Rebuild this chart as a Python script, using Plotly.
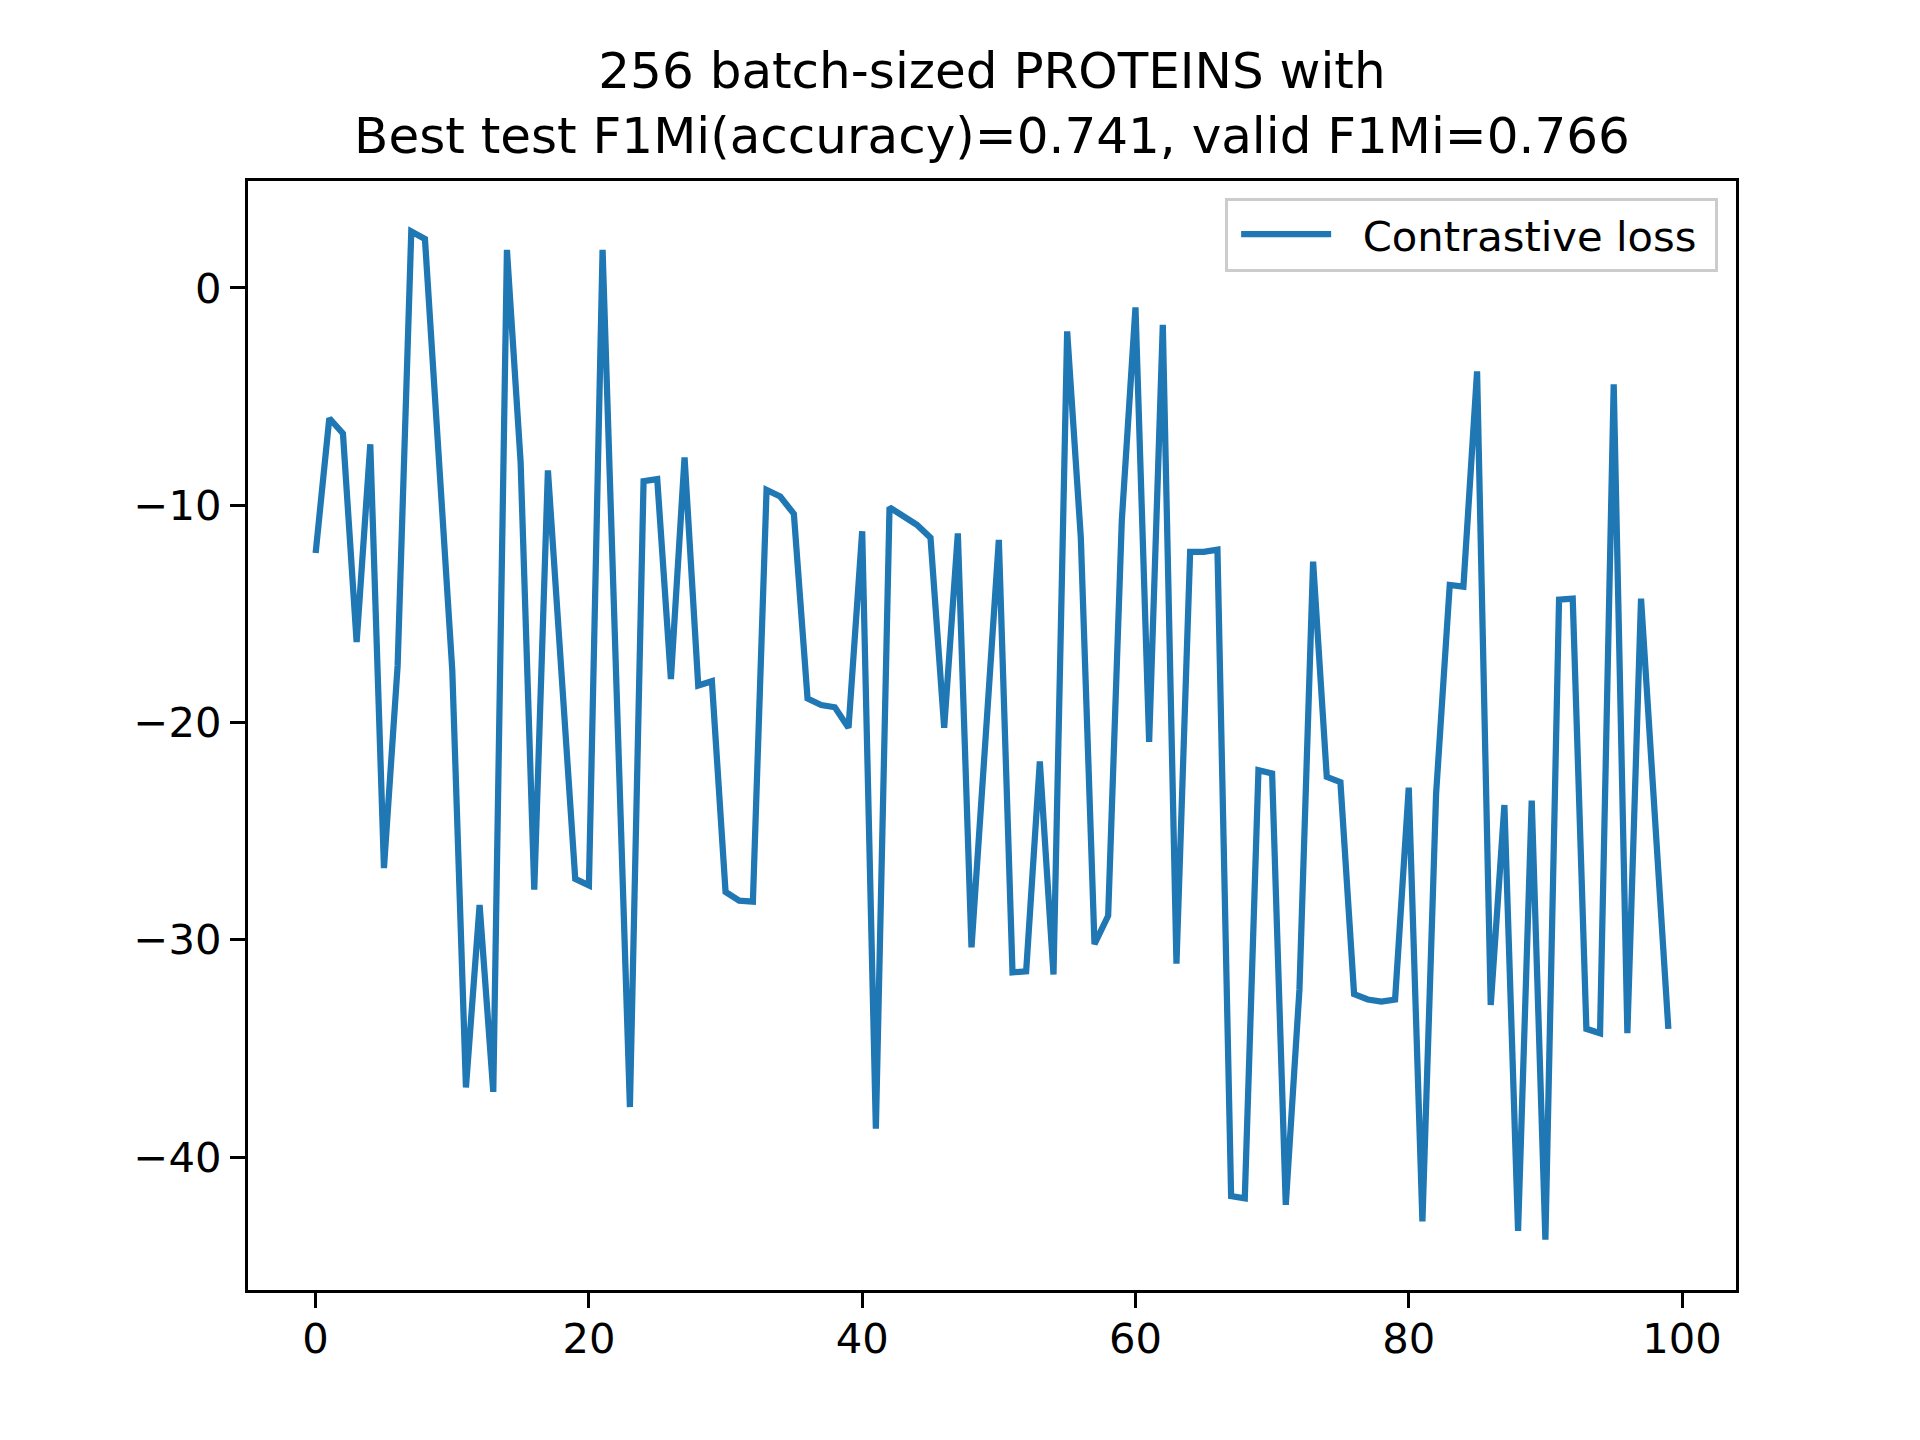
import plotly.graph_objects as go

# Contrastive loss per step
steps = list(range(100))
loss = [
    -12.2, -6.0, -6.7, -16.3, -7.2, -26.7, -17.4, 2.6, 2.25, -7.6,
    -17.6, -36.8, -28.4, -37.0, 1.75, -8.0, -27.7, -8.4, -18.0, -27.2,
    -27.5, 1.75, -18.0, -37.7, -8.9, -8.8, -18.0, -7.8, -18.3, -18.1,
    -27.8, -28.2, -28.25, -9.3, -9.6, -10.4, -18.9, -19.2, -19.3, -20.25,
    -11.2, -38.7, -10.1, -10.5, -10.9, -11.5, -20.25, -11.3, -30.35, -21.0,
    -11.6, -31.5, -31.45, -21.8, -31.6, -2.0, -11.5, -30.2, -28.9, -10.7,
    -0.9, -20.9, -1.7, -31.1, -12.15, -12.15, -12.05, -41.8, -41.9, -22.2,
    -22.35, -42.2, -32.3, -12.6, -22.5, -22.75, -32.5, -32.75, -32.85, -32.75,
    -23.0, -42.96, -23.3, -13.67, -13.75, -3.84, -33.0, -23.8, -43.4, -23.6,
    -43.8, -14.35, -14.3, -34.1, -34.3, -4.44, -34.3, -14.3, -24.2, -34.1,
]
x_ticks = [0, 20, 40, 60, 80, 100]
y_ticks = [0, -10, -20, -30, -40]
title = "256 batch-sized PROTEINS with<br>Best test F1Mi(accuracy)=0.741, valid F1Mi=0.766"
series_name = "Contrastive loss"

# matplotlib-style 5% margins
xm = (max(steps) - min(steps)) * 0.05
ym = (max(loss) - min(loss)) * 0.05

fig = go.Figure()
# non-breaking spaces give the legend matplotlib-like padding
fig.add_trace(go.Scatter(x=steps, y=loss, mode="lines",
                         name="\u00a0\u00a0" + series_name + "\u00a0",
                         line=dict(color="#1f77b4", width=6.25)))

axis_style = dict(showgrid=False, zeroline=False, showline=True, mirror=True,
                  linecolor="black", linewidth=3.3, ticks="outside", ticklen=15,
                  tickwidth=3.3, tickcolor="black",
                  tickfont=dict(size=41.7, color="black"))

fig.update_layout(
    width=1920, height=1440,
    margin=dict(l=240, r=192, t=173, b=158),
    paper_bgcolor="white", plot_bgcolor="white",
    font=dict(family="DejaVu Sans", color="black"),
    title=dict(text=title, x=0.5125, xref="container", xanchor="center",
               y=1 - 80 / 1440, yref="container", yanchor="middle",
               font=dict(size=50, color="black")),
    legend=dict(x=0.988, y=0.985, xanchor="right", yanchor="top",
                bgcolor="rgba(255,255,255,0.8)", bordercolor="#cccccc",
                borderwidth=3, itemwidth=90, indentation=8,
                font=dict(size=41.7, color="black")),
    showlegend=True,
)
fig.update_xaxes(range=[min(steps) - xm, max(steps) + xm], tickvals=x_ticks,
                 ticklabelstandoff=-5, **axis_style)
fig.update_yaxes(range=[min(loss) - ym, max(loss) + ym], tickvals=y_ticks, **axis_style)

fig.write_html("out.html")
